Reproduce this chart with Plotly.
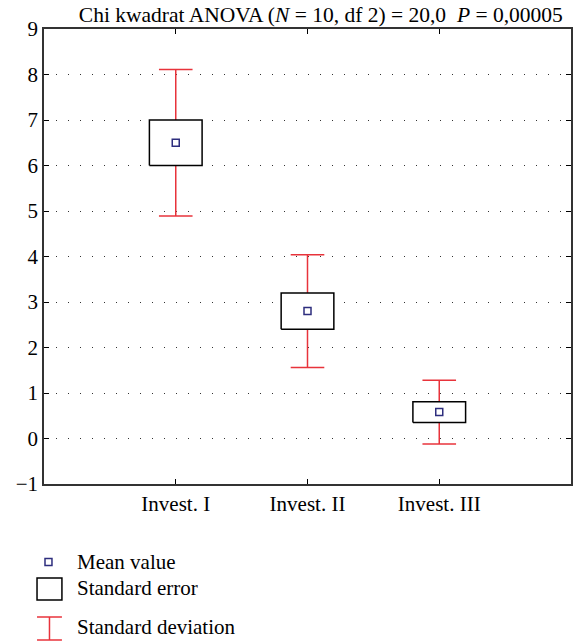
import plotly.graph_objects as go

categories = ["Invest. I", "Invest. II", "Invest. III"]
cat_pos = [1, 2, 3]
means = [6.5, 2.8, 0.58]
se = [0.5, 0.4, 0.23]
sd = [1.61, 1.24, 0.7]
y_ticks = list(range(-1, 10))
y_tick_text = ["\u22121"] + [str(v) for v in range(0, 10)]

RED = "#e8333b"
NAVY = "#2e2e7e"
FONT = "Liberation Serif"
FS = 21

fig = go.Figure()

# whiskers (outside the box)
wx, wy = [], []
for x, m, s, d in zip(cat_pos, means, se, sd):
    wx += [x, x, None, x, x, None]
    wy += [m + d, m + s, None, m - s, m - d, None]
fig.add_trace(go.Scatter(x=wx, y=wy, mode="lines", line=dict(color=RED, width=1.5),
                         hoverinfo="skip", showlegend=False))
# caps
cx, cy = [], []
for x, m, d in zip(cat_pos, means, sd):
    cx += [x, x]
    cy += [m + d, m - d]
fig.add_trace(go.Scatter(x=cx, y=cy, mode="markers",
                         marker=dict(symbol="line-ew", size=24, line=dict(color=RED, width=1.5)),
                         hoverinfo="skip", showlegend=False))
# SE boxes
for x, m, s in zip(cat_pos, means, se):
    hw = 0.2
    fig.add_trace(go.Scatter(x=[x - hw, x + hw, x + hw, x - hw, x - hw],
                             y=[m - s, m - s, m + s, m + s, m - s],
                             mode="lines", fill="toself", fillcolor="white",
                             line=dict(color="black", width=1.5),
                             hoverinfo="skip", showlegend=False))
# means
fig.add_trace(go.Scatter(x=cat_pos, y=means, mode="markers",
                         marker=dict(symbol="square-open", size=7, color=NAVY,
                                     line=dict(color=NAVY, width=1.5)),
                         showlegend=False))

fig.update_layout(
    width=576, height=642,
    margin=dict(l=44, r=3, t=29, b=158),
    paper_bgcolor="white", plot_bgcolor="white",
    font=dict(family=FONT, size=FS, color="black"),
    title=dict(text="Chi kwadrat ANOVA (<i>N</i> = 10, df 2) = 20,0  <i>P</i> = 0,00005",
               x=0.557, xanchor="center", y=0.978, yanchor="middle",
               font=dict(family=FONT, size=21.5, color="black")),
    xaxis=dict(range=[0, 4], tickvals=cat_pos, ticktext=categories,
               ticks="inside", ticklen=5, tickcolor="black", tickwidth=1,
               tickfont=dict(family=FONT, size=FS, color="black"),
               showline=True, linecolor="#333333", linewidth=1.5, mirror="allticks",
               showgrid=False, zeroline=False, fixedrange=True),
    yaxis=dict(range=[-1, 9], tickvals=y_ticks, ticktext=y_tick_text,
               ticks="inside", ticklen=5, tickcolor="black", tickwidth=1,
               tickfont=dict(family=FONT, size=FS, color="black"),
               showline=True, linecolor="#333333", linewidth=1.5, mirror="allticks",
               showgrid=True, gridcolor="#333333", gridwidth=1, griddash="1px,11px",
               zeroline=False, fixedrange=True),
)

# legend (drawn manually, paper coords)
def py(pix):
    return -(pix - 484) / 455

def px(pix):
    return (pix - 44) / 529

fig.add_shape(type="rect", xref="paper", yref="paper",
              x0=px(45), x1=px(52), y0=py(565.5), y1=py(558.5),
              line=dict(color=NAVY, width=1.5), fillcolor="white")
fig.add_shape(type="rect", xref="paper", yref="paper",
              x0=px(37), x1=px(62), y0=py(600), y1=py(578),
              line=dict(color="black", width=1.5), fillcolor="white")
fig.add_shape(type="line", xref="paper", yref="paper",
              x0=px(49.5), x1=px(49.5), y0=py(640), y1=py(617),
              line=dict(color=RED, width=1.5))
for yy in (617, 640):
    fig.add_shape(type="line", xref="paper", yref="paper",
                  x0=px(37), x1=px(62), y0=py(yy), y1=py(yy),
                  line=dict(color=RED, width=1.5))
for txt, yy in (("Mean value", 562), ("Standard error", 588), ("Standard deviation", 627)):
    fig.add_annotation(text=txt, xref="paper", yref="paper", x=px(75),
                       y=py(yy), xanchor="left", yanchor="middle",
                       showarrow=False, font=dict(family=FONT, size=FS, color="black"))

fig.write_html("out.html", config={"displayModeBar": False},
               post_script="document.body.style.margin='0';document.body.style.overflow='hidden';")
